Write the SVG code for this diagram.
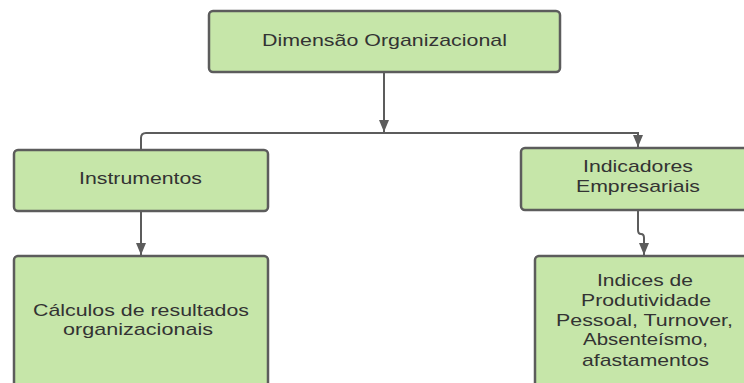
<svg xmlns="http://www.w3.org/2000/svg" width="744" height="383" viewBox="0 0 744 383">
<style>
.box{fill:#c6e6a9;stroke:#5c5c5c;stroke-width:2.5}
.t{font-family:"Liberation Sans",Arial,sans-serif;font-size:17px;fill:#333333;text-anchor:middle}
.c{fill:none;stroke:#5c5c5c;stroke-width:2}
</style>
<defs>
<marker id="arr" markerUnits="userSpaceOnUse" markerWidth="12" markerHeight="12" refX="12" refY="5" orient="auto">
<path d="M0,0 L12,5 L0,10 Z" fill="#5c5c5c"/>
</marker>
</defs>
<rect width="744" height="383" fill="#ffffff"/>
<g id="connectors">
<path class="c" d="M384,72 V132" marker-end="url(#arr)"/>
<path class="c" d="M141,150 V138 Q141,133 146,133 H638 V147" marker-end="url(#arr)"/>
<path class="c" d="M141,211 V255" marker-end="url(#arr)"/>
<path class="c" d="M638,210 V230 Q638,234 641,234 Q644,234 644,238 V255" marker-end="url(#arr)"/>
</g>
<g id="n1">
<rect class="box" x="209" y="11" width="351" height="61" rx="4"/>
<text class="t" x="384.5" y="46" textLength="245" lengthAdjust="spacingAndGlyphs">Dimensão Organizacional</text>
</g>
<g id="n2">
<rect class="box" x="14" y="150" width="254" height="61" rx="4"/>
<text class="t" x="140.5" y="184" textLength="123" lengthAdjust="spacingAndGlyphs">Instrumentos</text>
</g>
<g id="n3">
<rect class="box" x="521" y="148" width="236" height="62" rx="4"/>
<text class="t" x="638" y="172" textLength="110" lengthAdjust="spacingAndGlyphs">Indicadores</text>
<text class="t" x="638" y="192" textLength="124" lengthAdjust="spacingAndGlyphs">Empresariais</text>
</g>
<g id="n4">
<rect class="box" x="14" y="256" width="254" height="140" rx="4"/>
<text class="t" x="141" y="316" textLength="216" lengthAdjust="spacingAndGlyphs">Cálculos de resultados</text>
<text class="t" x="138" y="335" textLength="150" lengthAdjust="spacingAndGlyphs">organizacionais</text>
</g>
<g id="n5">
<rect class="box" x="535" y="256" width="222" height="140" rx="4"/>
<text class="t" x="645" y="286" textLength="96" lengthAdjust="spacingAndGlyphs">Indices de</text>
<text class="t" x="646" y="306" textLength="130" lengthAdjust="spacingAndGlyphs">Produtividade</text>
<text class="t" x="644.5" y="326" textLength="177" lengthAdjust="spacingAndGlyphs">Pessoal, Turnover,</text>
<text class="t" x="645.5" y="345" textLength="125" lengthAdjust="spacingAndGlyphs">Absenteísmo,</text>
<text class="t" x="645.5" y="366" textLength="127" lengthAdjust="spacingAndGlyphs">afastamentos</text>
</g>
</svg>
